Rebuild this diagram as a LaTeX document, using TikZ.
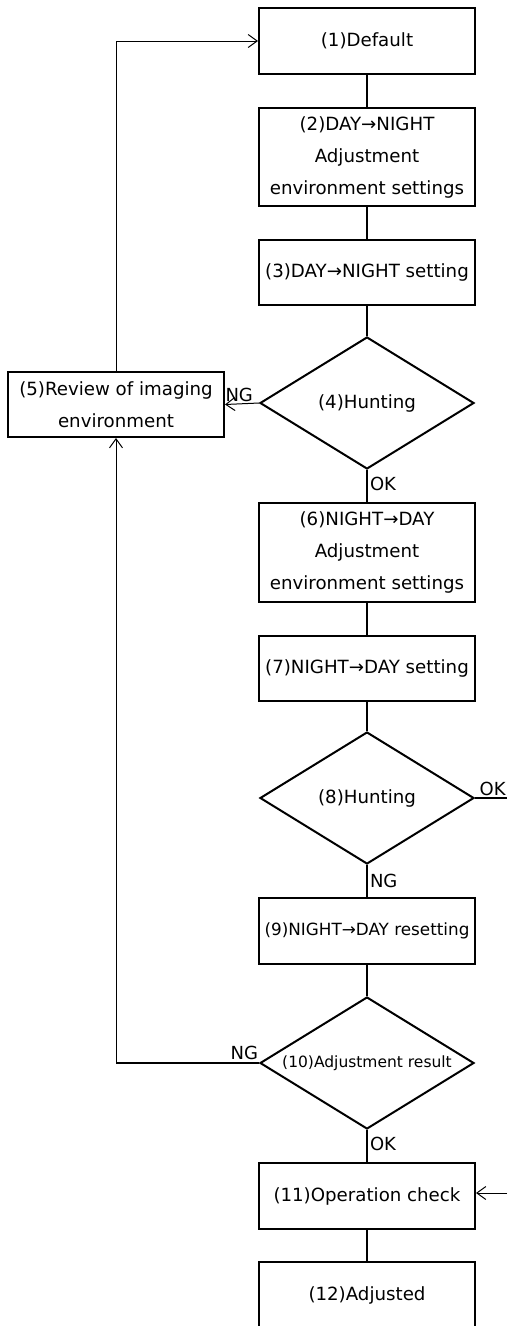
\documentclass[tikz,border=0pt]{standalone}
\usepackage{fontspec}
\setmainfont{DejaVu Sans}
\usetikzlibrary{shapes.geometric,arrows.meta}

\begin{document}
\begin{tikzpicture}[x=1pt, y=-1pt,
  box/.style={draw, line width=2pt, minimum width=216pt, inner sep=0pt, align=center, font=\fontsize{18.2}{32}\selectfont},
  check/.style={draw, diamond, line width=2pt, minimum width=214pt, minimum height=132pt, aspect=1.62, inner sep=0pt, font=\fontsize{18.2}{20}\selectfont},
  flow/.style={line width=2pt},
  back/.style={line width=1pt, -{Straight Barb[length=9pt,width=13pt]}},
  answer/.style={font=\fontsize{18}{20}\selectfont, inner sep=2pt}]
\useasboundingbox (0,0) rectangle (507,1326);

% Draw steps.
\node[box, minimum height=66pt] (default) at (367, 41) {(1)Default};
\node[box, minimum height=98pt] (dayenv) at (367, 157) {(2)DAY→NIGHT\\Adjustment\\environment settings};
\node[box, minimum height=65pt] (dayset) at (367, 272.5) {(3)DAY→NIGHT setting};
\node[check] (hunt1) at (367, 403) {(4)Hunting};
\node[box, minimum height=65pt] (review) at (116, 404.5) {(5)Review of imaging\\environment};
\node[box, minimum height=99pt] (nightenv) at (367, 552.5) {(6)NIGHT→DAY\\Adjustment\\environment settings};
\node[box, minimum height=65pt] (nightset) at (367, 668.5) {(7)NIGHT→DAY setting};
\node[check] (hunt2) at (367, 798) {(8)Hunting};
\node[box, minimum height=66pt, font=\fontsize{16.8}{20}\selectfont] (reset) at (367, 931) {(9)NIGHT→DAY resetting};
\node[check, font=\fontsize{15.5}{18}\selectfont] (result) at (367, 1063) {(10)Adjustment result};
\node[box, minimum height=66pt] (opcheck) at (367, 1196) {(11)Operation check};
\node[box, minimum height=66pt] (adjusted) at (367, 1295) {(12)Adjusted};

% Draw main flow.
\draw[flow] (default) -- (dayenv);
\draw[flow] (dayenv) -- (dayset);
\draw[flow] (dayset) -- (hunt1);
\draw[flow] (hunt1) -- (nightenv) node[answer, pos=0.45, right] {OK};
\draw[flow] (nightenv) -- (nightset);
\draw[flow] (nightset) -- (hunt2);
\draw[flow] (hunt2) -- (reset) node[answer, pos=0.5, right] {NG};
\draw[flow] (reset) -- (result);
\draw[flow] (result) -- (opcheck) node[answer, pos=0.45, right] {OK};
\draw[flow] (opcheck) -- (adjusted);

% Draw branches.
\coordinate (okout) at (507, 798);
\coordinate (okin) at (507, 1193);
\coordinate (ngturn) at (116, 1063);
\draw[line width=1.5pt] (hunt2.east) -- (okout) node[answer, pos=0.55, above] {OK};
\draw[back] (okin) -- (opcheck.east |- okin);
\draw[back] (hunt1.west) -- (review.east) node[answer, at end, above right, xshift=-2pt] {NG};
\draw[line width=2pt] (result.west) -- (ngturn) node[answer, at start, above left, xshift=2pt] {NG};
\draw[back] (ngturn) -- (review.south);
\draw[back] (review.north) |- (default.west);

\end{tikzpicture}
\end{document}
